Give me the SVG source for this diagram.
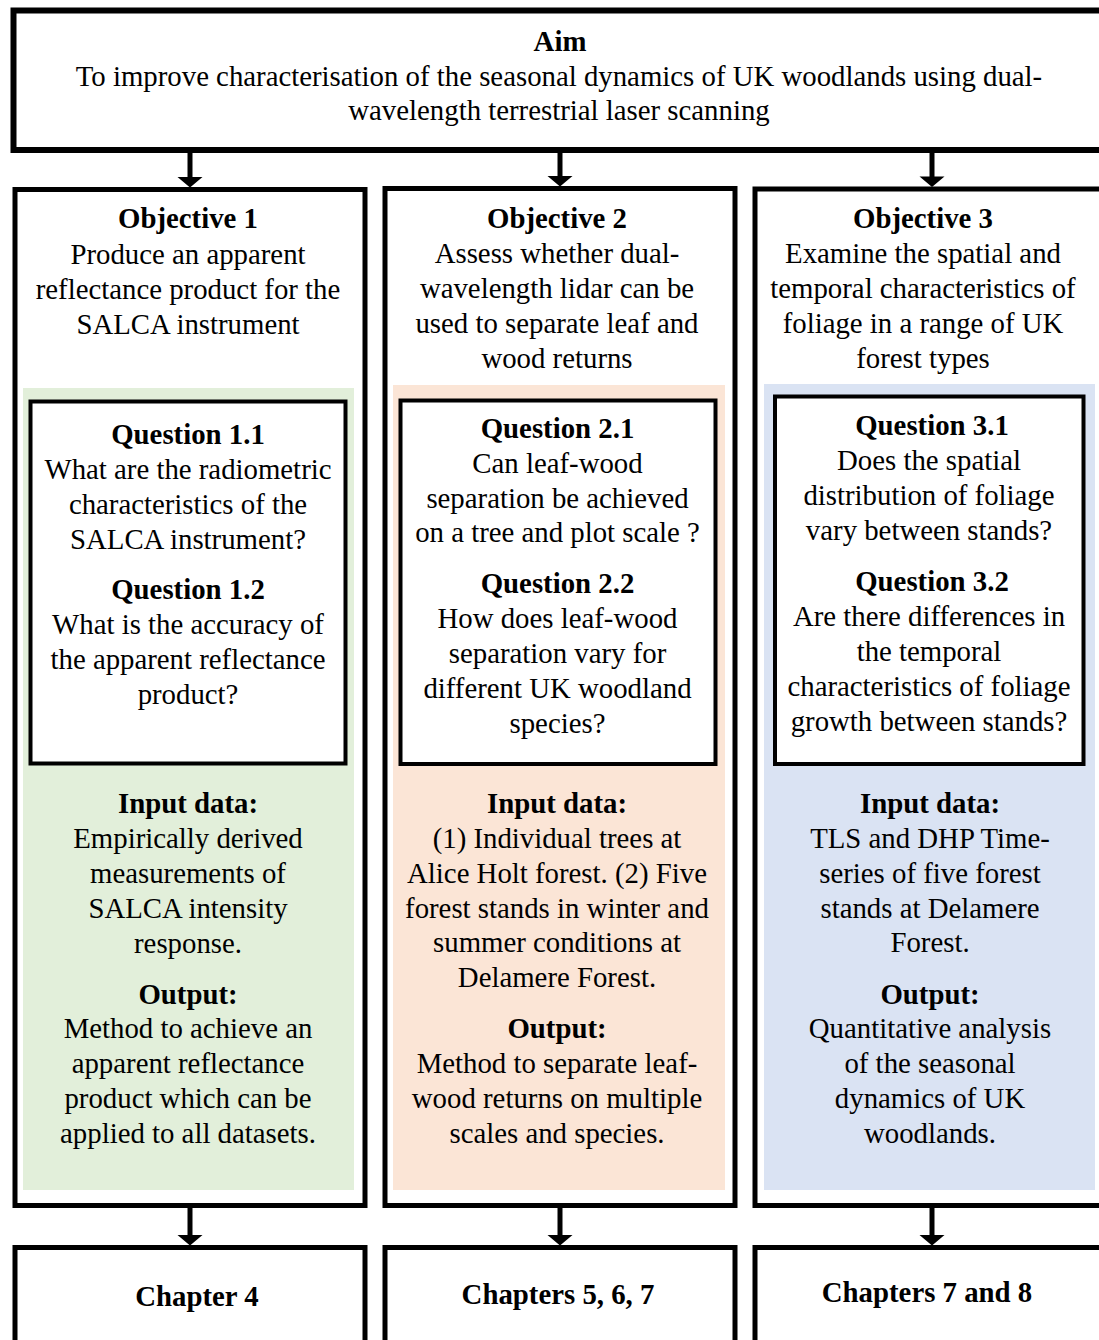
<svg xmlns="http://www.w3.org/2000/svg" width="1099" height="1340" viewBox="0 0 1099 1340">
<style>
  .box{fill:#fff;stroke:#000;stroke-width:5}
  .aim{fill:#fff;stroke:#000;stroke-width:6}
  .q{fill:#fff;stroke:#000;stroke-width:4}
  .t{font-family:"Liberation Serif","Times New Roman",serif;font-size:28.8px;fill:#000;text-anchor:middle}
  .b{font-weight:bold}
  .conn{stroke:#000;stroke-width:5;fill:none}
  .head{fill:#000}
</style>
<defs>
  <polygon id="ah" points="-12.5,0 12.5,0 0,10.5" class="head"/>
</defs>

<g id="aim">
  <rect class="aim" x="13.5" y="10.5" width="1100" height="139.5"/>
  <text class="t b" x="560" y="51">Aim</text>
  <text class="t" x="559" y="86">To improve characterisation of the seasonal dynamics of UK woodlands using dual-</text>
  <text class="t" x="559" y="120">wavelength terrestrial laser scanning</text>
</g>

<g id="objective1">
  <rect class="box" x="15" y="189.5" width="350" height="1016"/>
  <rect x="23" y="388" width="331" height="802" fill="#E2EFDA"/>
  <text class="t b" x="188" y="228">Objective 1</text>
  <text class="t" x="188" y="264">Produce an apparent</text>
  <text class="t" x="188" y="299">reflectance product for the</text>
  <text class="t" x="188" y="334">SALCA instrument</text>
  <text class="t b" x="188" y="813">Input data:</text>
  <text class="t" x="188" y="848">Empirically derived</text>
  <text class="t" x="188" y="883">measurements of</text>
  <text class="t" x="188" y="918">SALCA intensity</text>
  <text class="t" x="188" y="953">response.</text>
  <text class="t b" x="188" y="1004">Output:</text>
  <text class="t" x="188" y="1038">Method to achieve an</text>
  <text class="t" x="188" y="1073">apparent reflectance</text>
  <text class="t" x="188" y="1108">product which can be</text>
  <text class="t" x="188" y="1143">applied to all datasets.</text>
</g>

<g id="question1">
  <rect class="q" x="30.5" y="401.5" width="315" height="362"/>
  <text class="t b" x="188" y="444">Question 1.1</text>
  <text class="t" x="188" y="479">What are the radiometric</text>
  <text class="t" x="188" y="514">characteristics of the</text>
  <text class="t" x="188" y="549">SALCA instrument?</text>
  <text class="t b" x="188" y="599">Question 1.2</text>
  <text class="t" x="188" y="634">What is the accuracy of</text>
  <text class="t" x="188" y="669">the apparent reflectance</text>
  <text class="t" x="188" y="704">product?</text>
</g>

<g id="objective2">
  <rect class="box" x="385" y="188.5" width="350" height="1017"/>
  <rect x="393" y="385" width="332" height="805" fill="#FBE5D6"/>
  <text class="t b" x="557" y="228">Objective 2</text>
  <text class="t" x="557" y="263">Assess whether dual-</text>
  <text class="t" x="557" y="298">wavelength lidar can be</text>
  <text class="t" x="557" y="333">used to separate leaf and</text>
  <text class="t" x="557" y="368">wood returns</text>
  <text class="t b" x="557" y="813">Input data:</text>
  <text class="t" x="557" y="848">(1) Individual trees at</text>
  <text class="t" x="557" y="883">Alice Holt forest. (2) Five</text>
  <text class="t" x="557" y="918">forest stands in winter and</text>
  <text class="t" x="557" y="952">summer conditions at</text>
  <text class="t" x="557" y="987">Delamere Forest.</text>
  <text class="t b" x="557" y="1038">Output:</text>
  <text class="t" x="557" y="1073">Method to separate leaf-</text>
  <text class="t" x="557" y="1108">wood returns on multiple</text>
  <text class="t" x="557" y="1143">scales and species.</text>
</g>

<g id="question2">
  <rect class="q" x="400.5" y="400.5" width="315" height="363.5"/>
  <text class="t b" x="557.5" y="438">Question 2.1</text>
  <text class="t" x="557.5" y="473">Can leaf-wood</text>
  <text class="t" x="557.5" y="508">separation be achieved</text>
  <text class="t" x="557.5" y="542">on a tree and plot scale ?</text>
  <text class="t b" x="557.5" y="593">Question 2.2</text>
  <text class="t" x="557.5" y="628">How does leaf-wood</text>
  <text class="t" x="557.5" y="663">separation vary for</text>
  <text class="t" x="557.5" y="698">different UK woodland</text>
  <text class="t" x="557.5" y="733">species?</text>
</g>

<g id="objective3">
  <rect class="box" x="755" y="189" width="360" height="1016.5"/>
  <rect x="764" y="384" width="331" height="806" fill="#DAE3F3"/>
  <text class="t b" x="923" y="228">Objective 3</text>
  <text class="t" x="923" y="263">Examine the spatial and</text>
  <text class="t" x="923" y="298">temporal characteristics of</text>
  <text class="t" x="923" y="333">foliage in a range of UK</text>
  <text class="t" x="923" y="368">forest types</text>
  <text class="t b" x="930" y="813">Input data:</text>
  <text class="t" x="930" y="848">TLS and DHP Time-</text>
  <text class="t" x="930" y="883">series of five forest</text>
  <text class="t" x="930" y="918">stands at Delamere</text>
  <text class="t" x="930" y="952">Forest.</text>
  <text class="t b" x="930" y="1004">Output:</text>
  <text class="t" x="930" y="1038">Quantitative analysis</text>
  <text class="t" x="930" y="1073">of the seasonal</text>
  <text class="t" x="930" y="1108">dynamics of UK</text>
  <text class="t" x="930" y="1143">woodlands.</text>
</g>

<g id="question3">
  <rect class="q" x="775" y="396.5" width="308.5" height="367.5"/>
  <text class="t b" x="932" y="435">Question 3.1</text>
  <text class="t" x="929" y="470">Does the spatial</text>
  <text class="t" x="929" y="505">distribution of foliage</text>
  <text class="t" x="929" y="540">vary between stands?</text>
  <text class="t b" x="932" y="591">Question 3.2</text>
  <text class="t" x="929" y="626">Are there differences in</text>
  <text class="t" x="929" y="661">the temporal</text>
  <text class="t" x="929" y="696">characteristics of foliage</text>
  <text class="t" x="929" y="731">growth between stands?</text>
</g>

<g id="chapter4">
  <rect class="box" x="15" y="1247.5" width="350" height="120"/>
  <text class="t b" x="197" y="1306">Chapter 4</text>
</g>
<g id="chapters567">
  <rect class="box" x="385" y="1247.5" width="350" height="120"/>
  <text class="t b" x="558" y="1304">Chapters 5, 6, 7</text>
</g>
<g id="chapters78">
  <rect class="box" x="755" y="1247.5" width="360" height="120"/>
  <text class="t b" x="927" y="1302">Chapters 7 and 8</text>
</g>

<g id="connectors">
  <line class="conn" x1="190" y1="153" x2="190" y2="178"/>
  <use href="#ah" x="190" y="177"/>
  <line class="conn" x1="560" y1="153" x2="560" y2="177"/>
  <use href="#ah" x="560" y="176"/>
  <line class="conn" x1="932" y1="153" x2="932" y2="177"/>
  <use href="#ah" x="932" y="176.5"/>
  <line class="conn" x1="190" y1="1208" x2="190" y2="1236"/>
  <use href="#ah" x="190" y="1235"/>
  <line class="conn" x1="560" y1="1208" x2="560" y2="1236"/>
  <use href="#ah" x="560" y="1235"/>
  <line class="conn" x1="932" y1="1208" x2="932" y2="1236"/>
  <use href="#ah" x="932" y="1235"/>
</g>
</svg>
